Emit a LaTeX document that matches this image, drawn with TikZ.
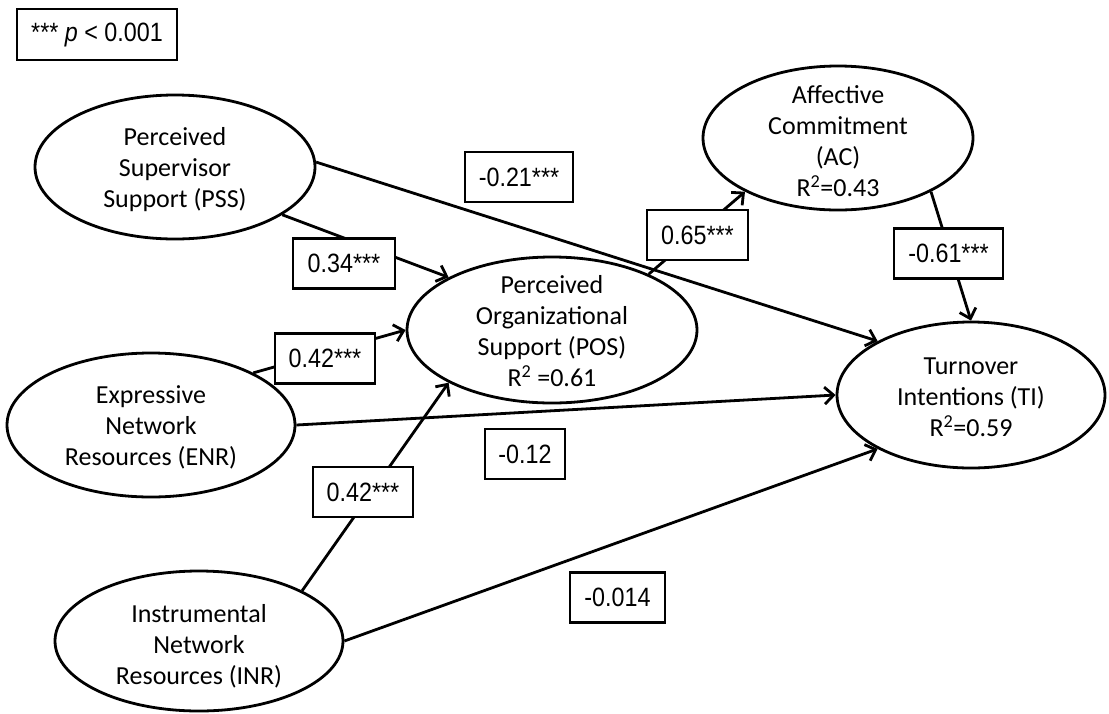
\documentclass[tikz,border=0pt]{standalone}
\usepackage{fontspec}
\setmainfont{Carlito}
\newfontfamily\numfont[FakeStretch=0.88]{Liberation Sans}
\usetikzlibrary{shapes.geometric,arrows.meta}
\begin{document}
\begin{tikzpicture}[x=1pt,y=-1pt,
  latent/.style={ellipse, draw, line width=2.8pt, inner sep=0pt},
  ltext/.style={align=center, inner sep=0pt, font=\fontsize{26}{31}\selectfont},
  coef/.style={draw, fill=white, line width=2.8pt, inner sep=0pt, minimum height=50pt,
    font=\numfont\fontsize{26.5}{30}\selectfont},
  conn/.style={line width=2.8pt, -{Straight Barb[length=9pt,width=17pt]}}]
\useasboundingbox (0,0) rectangle (1109,713);

% latent variables
\node[latent, minimum width=280pt, minimum height=144pt] (PSS) at (175,167) {};
\node[latent, minimum width=290pt, minimum height=146pt] (POS) at (552,330) {};
\node[latent, minimum width=270pt, minimum height=144pt] (AC) at (838,138) {};
\node[latent, minimum width=268pt, minimum height=146pt] (TI) at (971,395) {};
\node[latent, minimum width=288pt, minimum height=144pt] (ENR) at (151,425) {};
\node[latent, minimum width=288pt, minimum height=140pt] (INR) at (199,641) {};

\node[ltext] (PSSt) at (175,170) {Perceived\\Supervisor\\Support (PSS)};
\node[ltext] (POSt) at (552,331) {Perceived\\Organizational\\Support (POS)\\R\textsuperscript{2} =0.61};
\node[ltext] (ACt) at (838,141) {Affective\\Commitment\\(AC)\\R\textsuperscript{2}=0.43};
\node[ltext] (TIt) at (971,397) {Turnover\\Intentions (TI)\\R\textsuperscript{2}=0.59};
\node[ltext] (ENRt) at (151,427) {Expressive\\Network\\Resources (ENR)};
\node[ltext] (INRt) at (199,646) {Instrumental\\Network\\Resources (INR)};

% paths
\draw[conn] (PSS.2) -- (TI.150);
\draw[conn] (PSS.-24) -- (POS.153);
\draw[conn] (ENR.27) -- (POS.west);
\draw[conn] (INR.26) -- (POS.207);
\draw[conn] (ENR.east) -- (TI.west);
\draw[conn] (INR.east) -- (TI.210);
\draw[conn] (POS.30) -- (AC.210);
\draw[conn] (AC.-30) -- (TI.north);

% coefficients
\node[coef, minimum width=108pt] (b21) at (519,177) {-0.21***};
\node[coef, minimum width=101pt] (b65) at (697.5,235) {0.65***};
\node[coef, minimum width=102pt] (b34) at (344,263.5) {0.34***};
\node[coef, minimum width=100pt] (b42e) at (325,358.5) {0.42***};
\node[coef, minimum width=100pt] (b42i) at (363,492) {0.42***};
\node[coef, minimum width=80pt] (b12) at (525,454) {-0.12};
\node[coef, minimum width=95pt] (b014) at (617.5,597.5) {-0.014};
\node[coef, minimum width=109pt] (b61) at (948.5,253.5) {-0.61***};
\node[coef, minimum width=160pt, minimum height=51pt] (leg) at (97,34.5) {*** \textit{p} < 0.001};
\end{tikzpicture}
\end{document}
